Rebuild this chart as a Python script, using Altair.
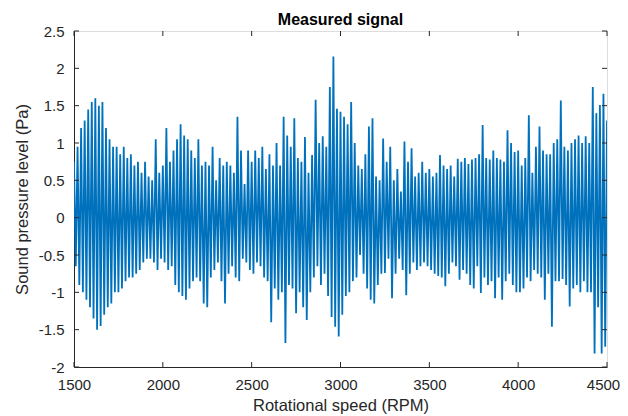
import altair as alt
import pandas as pd

# Envelope of the measured signal, every 20 RPM
rpm = list(range(1500, 4501, 20))
upper = [
    0.75, 0.95, 1.2, 1.3, 1.45, 1.55, 1.6, 1.5, 1.55, 1.2, 1.05, 0.95, 0.95, 0.85, 0.95, 0.8, 0.85, 0.7, 0.75, 0.6, 0.75, 0.55, 0.5,
    1.05, 0.6, 0.7, 1.2, 0.75, 0.9, 1.05, 1.25, 1.1, 1.05, 0.9, 0.8, 1.05, 0.7, 0.75, 0.7, 0.95, 0.5, 0.8, 0.7, 0.75,
    0.7, 0.6, 1.35, 0.9, 0.45, 0.9, 0.75, 0.9, 0.8, 0.95, 0.65, 0.85, 0.7, 1.0, 0.7, 1.35, 1.1, 0.95, 1.33, 0.8, 0.75,
    1.08, 0.6, 0.84, 1.58, 1.0, 1.09, 0.95, 1.75, 2.16, 1.46, 1.42, 1.35, 1.25, 1.55, 1.0, 0.7, 0.65, 0.85, 1.22, 1.33, 0.55, 0.5,
    1.06, 0.75, 0.95, 0.5, 0.65, 0.35, 1.02, 0.75, 0.93, 0.55, 0.6, 0.75, 0.6, 0.65, 0.55, 0.6, 0.84, 0.7, 0.65, 0.7, 0.55,
    0.79, 0.75, 0.8, 0.72, 0.78, 0.8, 0.85, 1.24, 0.8, 0.78, 0.9, 0.8, 0.78, 0.75, 1.17, 1.0, 0.88, 0.9, 0.7, 0.8, 1.37,
    0.6, 0.95, 1.22, 0.9, 0.85, 0.85, 1.0, 1.05, 1.57, 0.95, 0.9, 1.0, 1.05, 1.1, 1.0, 1.09, 1.0, 1.75, 1.4, 1.51, 1.66, 1.3,
]
lower = [
    -0.65, -0.9, -1.0, -1.1, -1.2, -1.35, -1.5, -1.45, -1.3, -1.2, -1.15, -1.0, -1.0, -0.95, -0.85, -0.8, -0.8, -0.75, -0.7, -0.6, -0.55, -0.55, -0.6,
    -0.7, -0.55, -0.6, -0.7, -0.65, -0.9, -1.0, -1.05, -1.1, -0.95, -0.85, -0.8, -0.85, -1.15, -1.2, -0.8, -0.7, -0.6, -0.85, -1.15, -0.75,
    -0.65, -0.8, -0.85, -0.55, -0.6, -0.7, -0.75, -0.6, -0.65, -0.8, -0.85, -1.4, -0.95, -1.1, -1.0, -1.68, -0.9, -0.95, -1.28, -1.0, -1.2,
    -1.37, -1.0, -0.8, -0.65, -0.9, -0.75, -1.05, -1.33, -1.46, -1.59, -1.3, -1.05, -1.0, -0.85, -0.8, -0.5, -0.75, -0.95, -1.1, -1.15, -0.9, -0.75,
    -0.74, -0.55, -1.08, -0.75, -0.55, -0.7, -1.04, -0.75, -0.6, -0.7, -0.65, -0.6, -0.65, -0.7, -0.75, -0.78, -0.8, -0.92, -0.75, -0.6, -0.65,
    -0.83, -0.7, -0.75, -0.9, -0.95, -0.65, -1.01, -0.8, -0.9, -0.85, -1.08, -0.8, -1.1, -0.85, -0.75, -0.9, -1.0, -1.0, -0.95, -0.8, -0.85,
    -0.7, -0.75, -0.8, -1.1, -0.75, -1.46, -0.85, -0.85, -0.82, -0.9, -1.19, -0.95, -0.9, -1.0, -0.85, -1.0, -1.0, -1.82, -1.2, -1.82, -1.73, -1.37,
]
x_ticks = [1500, 2000, 2500, 3000, 3500, 4000, 4500]
y_ticks = [-2, -1.5, -1, -0.5, 0, 0.5, 1, 1.5, 2, 2.5]

W, H = 533, 336
AX = "#262626"
FONT = "Liberation Sans"

rows = []
seq = 0
for r, u, l in zip(rpm, upper, lower):
    rows.append({"rpm": r, "p": u, "seq": seq}); seq += 1
    rows.append({"rpm": r + 10, "p": l, "seq": seq}); seq += 1
sig = pd.DataFrame(rows)

xs = alt.Scale(domain=[1500, 4500], nice=False, zero=False)
ys = alt.Scale(domain=[-2, 2.5], nice=False, zero=False)

common = dict(ticks=False, grid=False, domainColor=AX, labelColor=AX,
              labelFontSize=15, labelFont=FONT, labelPadding=10,
              labelFlush=False, labelOverlap=False,
              titleFont=FONT, titleFontSize=16.5, titleFontWeight="normal",
              titleColor=AX)

x_axis = alt.Axis(values=x_ticks, format="d", title="Rotational speed (RPM)",
                  titlePadding=5,
                  labelOffset={"condition": {"test": "datum.value == 4500", "value": -4}, "value": 0},
                  **common)
y_axis = alt.Axis(values=y_ticks,
                  labelExpr="replace(format(datum.value, '~g'), '\u2212', '-')",
                  title="Sound pressure level (Pa)",
                  titlePadding=8, **common)

line = alt.Chart(sig).mark_line(color="#0072BD", strokeWidth=1.8, clip=True).encode(
    x=alt.X("rpm:Q", scale=xs, axis=x_axis),
    y=alt.Y("p:Q", scale=ys, axis=y_axis),
    order="seq:Q",
)

xt = pd.DataFrame({"t": x_ticks})
yt = pd.DataFrame({"t": y_ticks})
tick_style = dict(color=AX, strokeWidth=1)
xb = alt.Chart(xt).mark_rule(**tick_style).encode(x=alt.X("t:Q", scale=xs, axis=x_axis), y=alt.value(H), y2=alt.value(H - 5))
xtp = alt.Chart(xt).mark_rule(**tick_style).encode(x=alt.X("t:Q", scale=xs, axis=x_axis), y=alt.value(0), y2=alt.value(5))
yl = alt.Chart(yt).mark_rule(**tick_style).encode(y=alt.Y("t:Q", scale=ys, axis=y_axis), x=alt.value(0), x2=alt.value(5))
yr = alt.Chart(yt).mark_rule(**tick_style).encode(y=alt.Y("t:Q", scale=ys, axis=y_axis), x=alt.value(W), x2=alt.value(W - 5))

chart = alt.layer(line, xb, xtp, yl, yr).properties(
    width=W, height=H,
    title=alt.TitleParams("Measured signal", font=FONT, fontSize=16, fontWeight="bold",
                          color="black", offset=5, dy=9, anchor="middle"),
    autosize=alt.AutoSizeParams(type="none"),
    padding={"left": 66, "top": 23, "right": 13, "bottom": 49},
).configure_view(stroke=AX, strokeWidth=1).configure(background="white")

chart.save("out.html", embed_options={"renderer": "svg", "actions": False})
